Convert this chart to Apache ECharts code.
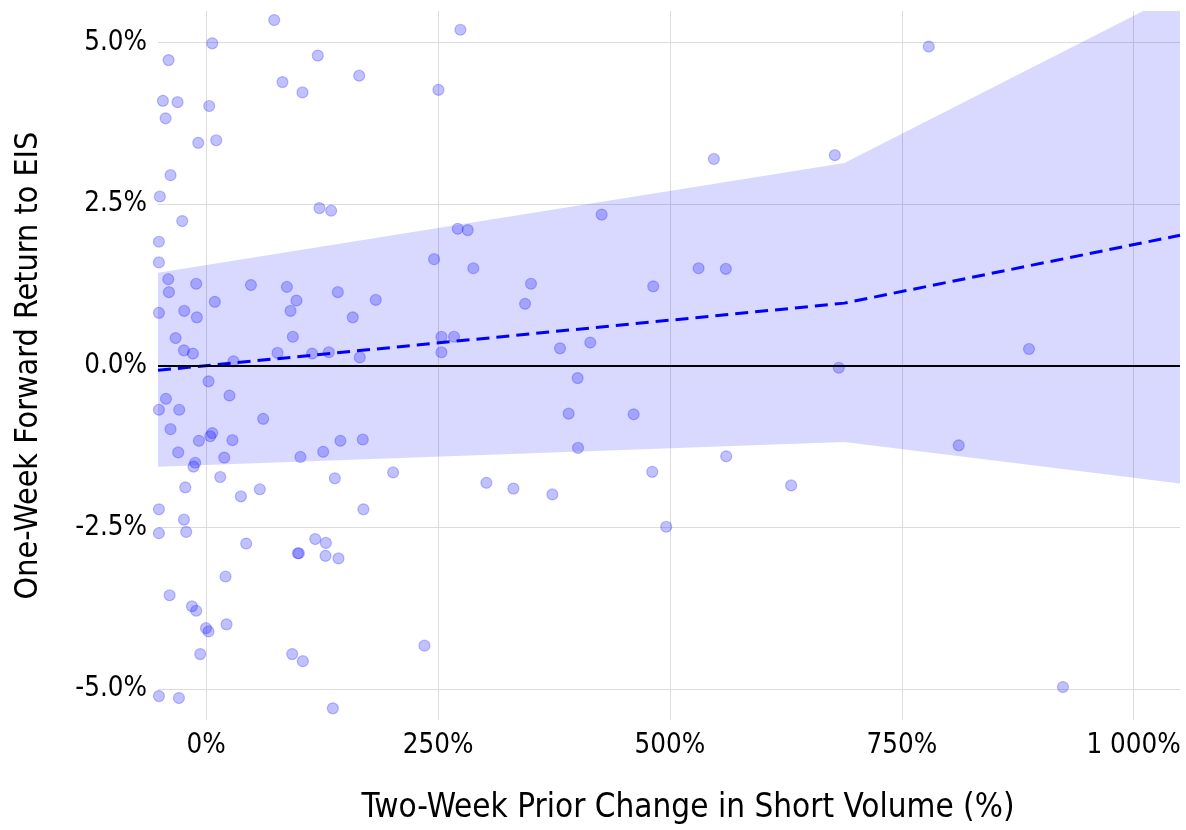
<!DOCTYPE html>
<html>
<head>
<meta charset="utf-8">
<script src="https://cdn.jsdelivr.net/npm/echarts@6/dist/echarts.min.js"></script>
<style>
html,body{margin:0;padding:0;background:#fff;}
#chart{width:1186px;height:830px;}
</style>
</head>
<body>
<div id="chart"></div>
<script>
// Scatter points: two-week prior change in short volume (%) vs one-week forward return (%)
const pointX = [
  73.3, 6.5, -40.6, 120.3, 82.2, 103.8, 164.9, -46.7, -30.9, 3.2, -43.8, -8.6, 10.8, -38.5, -50, 122.1, 134.7, -25.9, -51, -51,
  -40.9, -40.2, -10.8, 48.2, 87.0, 141.9, 182.8, 9.3, 97.3, -51, -23.7, -10.1, 90.9, 158.0, 93.4, -33.0, -24.0, -14.4, 29.4, 76.9,
  114.2, 132.2, 165.6, 2.5, 25.1, -43.4, -51, -29.1, 61.4, -38.5, 6.5, 4.3, -7.9, 28.3, 144.7, 168.8, -30.2, 19.4, 101.6, 126.1,
  -11.9, -13.7, 201.5, 15.1, 138.7, -22.6, 37.4, 57.8, 169.5, -51,
  -24.0, -21.6, -51, 43.1, 117.5, 129.0, 98.8, 99.9, 128.6, 142.6, 20.8, -39.5, -15.4, -10.8, 21.9, -0.3, 2.5, -6.5, 92.7, 104.2,
  -51, -29.4, 136.5,
  274.1, 250.4, 547.4, 426.4, 271.2, 282.0, 245.7, 288.0, 350.2, 343.8, 482.0, 530.9, 560.3, 253.6, 267.2, 253.6, 381.5, 414.1, 400.5,
  390.8, 460.9, 400.9, 302.1, 331.2, 373.2, 480.9, 560.7, 496.0, 235.3, 208,
  779.1, 677.8, 682.1, 887.2, 811.4, 630.7, 923.8
];
const pointY = [
  5.35, 4.99, 4.73, 4.80, 4.39, 4.23, 4.49, 4.10, 4.08, 4.02, 3.83, 3.45, 3.49, 2.95, 2.62, 2.44, 2.40, 2.24, 1.92, 1.60,
  1.34, 1.14, 1.27, 1.25, 1.22, 1.14, 1.02, 0.99, 1.01, 0.82, 0.85, 0.75, 0.85, 0.75, 0.45, 0.43, 0.24, 0.19, 0.07, 0.20,
  0.19, 0.21, 0.13, -0.24, -0.46, -0.51, -0.68, -0.68, -0.82, -0.98, -1.04, -1.09, -1.16, -1.15, -1.16, -1.14, -1.34, -1.42, -1.41, -1.33,
  -1.50, -1.56, -1.65, -1.72, -1.74, -1.88, -2.02, -1.91, -2.22, -2.22,
  -2.38, -2.57, -2.59, -2.75, -2.68, -2.74, -2.90, -2.90, -2.94, -2.98, -3.26, -3.55, -3.72, -3.79, -4.00, -4.06, -4.11, -4.46, -4.46, -4.57,
  -5.11, -5.14, -5.30,
  5.20, 4.27, 3.20, 2.34, 2.12, 2.10, 1.65, 1.51, 1.27, 0.96, 1.23, 1.51, 1.50, 0.45, 0.45, 0.21, 0.27, 0.36, -0.19,
  -0.74, -0.75, -1.27, -1.81, -1.90, -1.99, -1.64, -1.40, -2.49, -4.33, -5.56,
  4.94, 3.26, -0.03, 0.26, -1.23, -1.85, -4.97
];

// Fitted trend and confidence band
const fitX = [-52, 688, 1050];
const fitY = [-0.07, 0.97, 2.02];
const bandUpper = [1.44, 3.14, 5.78];
const bandLower = [-1.56, -1.18, -1.82];

// Axis ticks
const xTicks = [0, 250, 500, 750, 1000];
const yTicks = [-5, -2.5, 0, 2.5, 5];

const xMin = -52, xMax = 1050, yMin = -5.48, yMax = 5.49;

const FONT = '"DejaVu Sans Condensed", "DejaVu Sans", sans-serif';

const scatterData = pointX.map((x, i) => [x, pointY[i]]);
const bandData = fitX.map((x, i) => [x, bandUpper[i], bandLower[i]]);
const fitData = fitX.map((x, i) => [x, fitY[i]]);

function fmtX(v) {
  const s = String(Math.round(v));
  return s.replace(/\B(?=(\d{3})+(?!\d))/g, ' ') + '%';
}

function renderBand(params, api) {
  if (params.dataIndex !== 0) return null;
  const pts = [];
  for (let i = 0; i < fitX.length; i++) pts.push(api.coord([fitX[i], bandUpper[i]]));
  for (let i = fitX.length - 1; i >= 0; i--) pts.push(api.coord([fitX[i], bandLower[i]]));
  const cs = params.coordSys;
  return {
    type: 'polygon',
    shape: {points: pts},
    style: {fill: 'rgba(0,0,255,0.15)', stroke: null},
    clipPath: {type: 'rect', shape: {x: cs.x, y: cs.y, width: cs.width, height: cs.height}},
    silent: true
  };
}

const chart = echarts.init(document.getElementById('chart'), null, {renderer: 'canvas'});
chart.setOption({
  animation: false,
  backgroundColor: '#fff',
  grid: {left: 158, right: 6, top: 11, bottom: 110},
  xAxis: {
    type: 'value', min: xMin, max: xMax,
    name: 'Two-Week Prior Change in Short Volume (%)',
    nameLocation: 'middle', nameGap: 72,
    nameTextStyle: {fontFamily: FONT, fontSize: 33, color: '#000', padding: [0, 0, 0, 38]},
    axisLine: {show: false},
    axisTick: {show: false, customValues: xTicks},
    axisLabel: {customValues: xTicks, formatter: fmtX, fontFamily: FONT, fontSize: 27.5, color: '#000', margin: 12},
    splitLine: {show: true, lineStyle: {color: '#dcdcdc', width: 1}}
  },
  yAxis: {
    type: 'value', min: yMin, max: yMax,
    name: 'One-Week Forward Return to EIS',
    nameLocation: 'middle', nameGap: 113,
    nameTextStyle: {fontFamily: FONT, fontSize: 32, color: '#000'},
    axisLine: {show: false},
    axisTick: {show: false, customValues: yTicks},
    axisLabel: {customValues: yTicks, formatter: v => v.toFixed(1) + '%', fontFamily: FONT, fontSize: 27.5, color: '#000', margin: 11},
    splitLine: {show: true, lineStyle: {color: '#dcdcdc', width: 1}}
  },
  series: [
    {
      type: 'custom', data: bandData, renderItem: renderBand, z: 1, silent: true,
      encode: {x: 0, y: [1, 2]}
    },
    {
      type: 'line', data: fitData, symbol: 'none', z: 3,
      lineStyle: {color: '#0000ff', width: 3, type: [13, 7]},
      markLine: {
        silent: true, symbol: 'none', label: {show: false},
        lineStyle: {color: '#000', width: 2, type: 'solid'},
        data: [{yAxis: 0}]
      }
    },
    {
      type: 'scatter', data: scatterData, symbolSize: 11, clip: true, z: 4,
      itemStyle: {color: 'rgba(0,0,255,0.3)', borderColor: 'rgba(0,0,255,0.3)', borderWidth: 1.2}
    }
  ]
});
</script>
</body>
</html>
